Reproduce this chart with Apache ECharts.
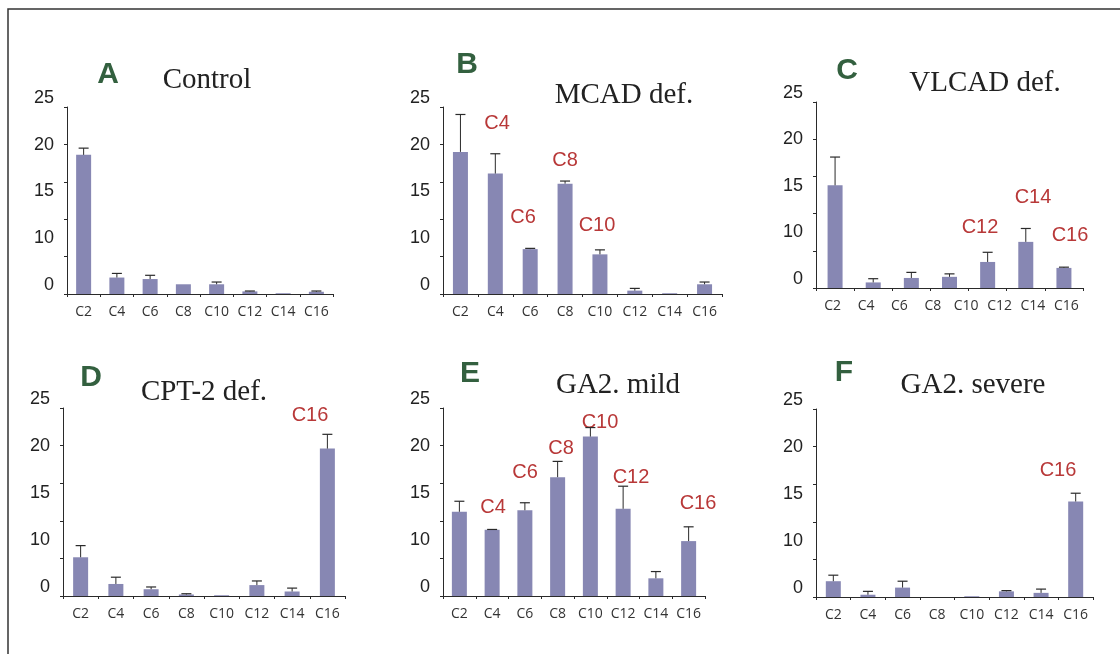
<!DOCTYPE html>
<html>
<head>
<meta charset="utf-8">
<script src="https://cdn.jsdelivr.net/npm/echarts@6/dist/echarts.min.js"></script>
<style>
  html, body { margin: 0; padding: 0; background: #fff; }
  #chart { width: 1120px; height: 654px; }
</style>
</head>
<body>
<div id="chart"></div>
<script>
// 横轴标签 / 纵轴标签
const cats = ['C2', 'C4', 'C6', 'C8', 'C10', 'C12', 'C14', 'C16']
// panel C only has 7 bars in the original (no C10 bar)
const catsC = ['C2', 'C4', 'C6', 'C8', 'C12', 'C14', 'C16']
const yTickLabels = ['0', '10', '15', '20', '25']

// mean values + upper error (SD)
const valsA = [18.6, 2.2, 2.0, 1.3, 1.3, 0.35, 0.1, 0.3]
const errA = [0.9, 0.55, 0.5, 0, 0.3, 0.05, 0, 0.1]
const valsB = [19.0, 16.1, 6.0, 14.75, 5.3, 0.45, 0.1, 1.3]
const errB = [5.0, 2.65, 0.1, 0.35, 0.6, 0.3, 0, 0.3]
const valsC = [13.8, 0.75, 1.35, 1.5, 3.5, 6.2, 2.7]
const errC = [3.8, 0.5, 0.75, 0.4, 1.3, 1.8, 0.1]
const valsD = [5.15, 1.6, 0.9, 0.2, 0.1, 1.45, 0.6, 19.6]
const errD = [1.55, 0.9, 0.3, 0.1, 0, 0.55, 0.45, 1.9]
const valsE = [11.2, 8.8, 11.4, 15.8, 21.2, 11.6, 2.35, 7.3]
const errE = [1.4, 0.05, 1.0, 2.1, 1.2, 3.0, 0.9, 1.9]
const valsF = [2.1, 0.3, 1.25, 0, 0.1, 0.75, 0.55, 12.7]
const errF = [0.8, 0.45, 0.85, 0, 0, 0.1, 0.5, 1.1]

const letters = ['A', 'B', 'C', 'D', 'E', 'F']
const titles = ['Control', 'MCAD def.', 'VLCAD def.', 'CPT-2 def.', 'GA2. mild', 'GA2. severe']
// red notes per panel
const notesB = ['C4', 'C6', 'C8', 'C10']
const notesC = ['C12', 'C14', 'C16']
const notesD = ['C16']
const notesE = ['C4', 'C6', 'C8', 'C10', 'C12', 'C16']
const notesF = ['C16']

// layout (pixels)
const panels = [
  { vals: valsA, errs: errA, barCats: cats, notes: [], grid: { left: 67, top: 107, width: 266, height: 187 },
    letterPos: [108, 75], titlePos: [207, 80], notePos: [] },
  { vals: valsB, errs: errB, barCats: cats, notes: notesB, grid: { left: 443, top: 107, width: 279, height: 187 },
    letterPos: [467, 65], titlePos: [624, 95], notePos: [[497, 123], [523, 217], [565, 160], [597, 225]] },
  { vals: valsC, errs: errC, barCats: catsC, notes: notesC, grid: { left: 816, top: 102, width: 267, height: 186 },
    letterPos: [847, 71], titlePos: [985, 83], notePos: [[980, 227], [1033, 197], [1070, 235]] },
  { vals: valsD, errs: errD, barCats: cats, notes: notesD, grid: { left: 63, top: 408, width: 282, height: 188 },
    letterPos: [91, 378], titlePos: [204, 392], notePos: [[310, 415]] },
  { vals: valsE, errs: errE, barCats: cats, notes: notesE, grid: { left: 443, top: 408, width: 262, height: 188 },
    letterPos: [470, 374], titlePos: [618, 385], notePos: [[493, 507], [525, 472], [561, 448], [600, 422], [631, 477], [698, 503]] },
  { vals: valsF, errs: errF, barCats: cats, notes: notesF, grid: { left: 816, top: 409, width: 277, height: 188 },
    letterPos: [844, 373], titlePos: [973, 385], notePos: [[1058, 470]] }
]

const barColor = '#8787b3'
const lineColor = '#2a2a2a'

let grid = []
let xAxis = []
let yAxis = []
let series = []
let graphic = [
  { type: 'rect', shape: { x: 8, y: 9, width: 1200, height: 700 },
    style: { fill: 'none', stroke: '#333', lineWidth: 1.5 }, silent: true }
]

panels.forEach((p, i) => {
  grid.push(p.grid)
  // bar axis (line + ticks, no labels)
  xAxis.push({
    type: 'category', gridIndex: i, data: p.barCats,
    axisLine: { lineStyle: { color: lineColor } },
    axisTick: { show: true, length: 3, lineStyle: { color: lineColor } },
    axisLabel: { show: false }
  })
  // label axis
  xAxis.push({
    type: 'category', gridIndex: i, data: cats, position: 'bottom',
    axisLine: { show: false }, axisTick: { show: false },
    axisLabel: { margin: 11, fontFamily: 'Open Sans', fontSize: 14, color: '#333' }
  })
  yAxis.push({
    type: 'value', gridIndex: i, min: 0, max: 25, interval: 5,
    axisLine: { show: true, lineStyle: { color: lineColor } },
    axisTick: { show: true, length: 3, lineStyle: { color: lineColor } },
    axisLabel: { show: false },
    splitLine: { show: false }
  })
  yAxis.push({
    type: 'category', gridIndex: i, data: yTickLabels, boundaryGap: false, position: 'left',
    axisLine: { show: false }, axisTick: { show: false }, splitLine: { show: false },
    axisLabel: { margin: 13, fontFamily: 'Liberation Sans', fontSize: 18, color: '#222', verticalAlign: 'bottom' }
  })
  series.push({
    type: 'bar', xAxisIndex: i * 2, yAxisIndex: i * 2,
    data: p.vals, barWidth: 15,
    itemStyle: { color: barColor }
  })
  series.push({
    type: 'custom', xAxisIndex: i * 2, yAxisIndex: i * 2, z: 5,
    data: p.vals.map((v, k) => [k, v, p.errs[k]]),
    renderItem: function (params, api) {
      let e = api.value(2)
      if (!e) return
      let p0 = api.coord([api.value(0), api.value(1)])
      let p1 = api.coord([api.value(0), api.value(1) + e])
      return {
        type: 'group',
        children: [
          { type: 'line', shape: { x1: p0[0], y1: p0[1], x2: p1[0], y2: p1[1] }, style: { stroke: lineColor, lineWidth: 1 } },
          { type: 'line', shape: { x1: p1[0] - 5, y1: p1[1], x2: p1[0] + 5, y2: p1[1] }, style: { stroke: lineColor, lineWidth: 1.2 } }
        ]
      }
    }
  })
  graphic.push({
    type: 'text', x: p.letterPos[0], y: p.letterPos[1],
    style: { text: letters[i], font: 'bold 30px "Liberation Sans"', fill: '#33603f', align: 'center', verticalAlign: 'middle' }
  })
  graphic.push({
    type: 'text', x: p.titlePos[0], y: p.titlePos[1],
    style: { text: titles[i], font: '29px "Liberation Serif"', fill: '#222', align: 'center', verticalAlign: 'middle' }
  })
  p.notes.forEach((n, k) => {
    graphic.push({
      type: 'text', x: p.notePos[k][0], y: p.notePos[k][1],
      style: { text: n, font: '20px "Liberation Sans"', fill: '#b83838', align: 'center', verticalAlign: 'middle' }
    })
  })
})

let myChart = echarts.init(document.getElementById('chart'))
myChart.setOption({
  animation: false,
  grid: grid,
  xAxis: xAxis,
  yAxis: yAxis,
  series: series,
  graphic: graphic
})
</script>
</body>
</html>
